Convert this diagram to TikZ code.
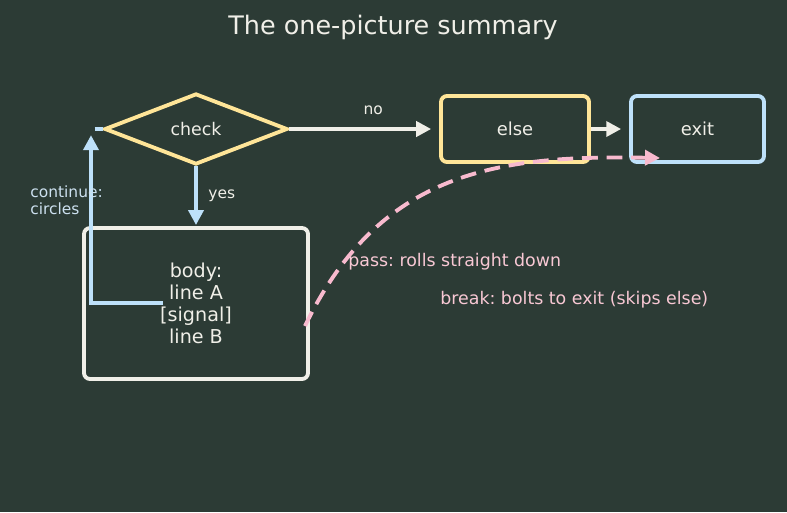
\documentclass[tikz,border=0pt]{standalone}
\usepackage{fontspec}
\setmainfont{DejaVu Sans}
\frenchspacing
\usetikzlibrary{arrows.meta, shapes.geometric}
\definecolor{bgc}{RGB}{44,59,53}
\definecolor{ylw}{RGB}{255,229,152}
\definecolor{blu}{RGB}{190,225,250}
\definecolor{wht}{RGB}{240,239,232}
\definecolor{pnk}{RGB}{248,186,206}
\definecolor{pnktxt}{RGB}{248,200,212}
\definecolor{blutxt}{RGB}{205,225,240}
\tikzset{
  dec/.style={diamond, draw=ylw, line width=2.2pt, minimum width=3.66cm, minimum height=1.42cm, inner sep=0pt, text=wht, font=\fontsize{9.9}{12}\selectfont},
  box/.style={draw, line width=2.2pt, rounded corners=3.4pt, minimum height=1.32cm, inner sep=0pt, text=wht, font=\fontsize{10.2}{12}\selectfont},
  tra/.style={-{Triangle[length=8.5pt, width=8.5pt]}, line width=2.2pt},
  tlab/.style={font=\fontsize{8.8}{9.8}\selectfont, inner sep=3pt},
  note/.style={font=\fontsize{9.9}{12}\selectfont, text=pnktxt, anchor=west, inner sep=0pt}
}
\begin{document}
\begin{tikzpicture}[x=0.02cm, y=-0.02cm]
	\fill[bgc] (0,0) rectangle (787,512);
	\useasboundingbox (0,0) rectangle (787,512);
	\node[text=wht, font=\fontsize{14.5}{16}\selectfont] (title) at (393,27) {The one-picture summary};
	% nodes
	\node[dec] (check) at (196,129) {check};
	\node[box, draw=ylw, minimum width=2.96cm] (else) at (515,129) {else};
	\node[box, draw=blu, minimum width=2.66cm] (exit) at (697.5,129) {exit};
	\node[box, draw=wht, minimum width=4.48cm, minimum height=3.02cm, align=center,
		font=\fontsize{10.9}{12.5}\selectfont] (body) at (196,303.5) {body:\\line A\\{[signal]}\\line B};
	% arrows
	\draw[tra, wht, shorten >=4.5pt] (check.east) -- node[tlab, text=wht, pos=0.56, above=4pt] {no} (else.west);
	\draw[tra, wht, shorten >=4.5pt] (else.east) -- (exit.west);
	\draw[tra, blu, shorten >=0.6pt] (check.south) -- node[tlab, text=wht, right=3pt] {yes} (body.north);
	% continue loop
	\coordinate (cs) at (163,303);
	\coordinate (ct) at (91,129);
	\draw[tra, blu, shorten >=3.5pt] (cs) -| (ct);
	\draw[blu, line width=2.2pt] ([xshift=2]ct) -- (check.west);
	\node[tlab, text=blutxt, align=left, anchor=west, inner sep=0pt] (cont) at (30,200) {continue:\\circles};
	% break
	\coordinate (bs) at (305,326);
	\coordinate (be) at (660,158);
	\draw[tra, pnk, dash pattern=on 9pt off 5pt] (bs) .. controls (380,170) and (500,155) .. (be);
	\node[note] (pass) at (348,261.5) {pass: rolls straight down};
	\node[note] (brk) at (440,299.5) {break: bolts to exit (skips else)};
\end{tikzpicture}
\end{document}
